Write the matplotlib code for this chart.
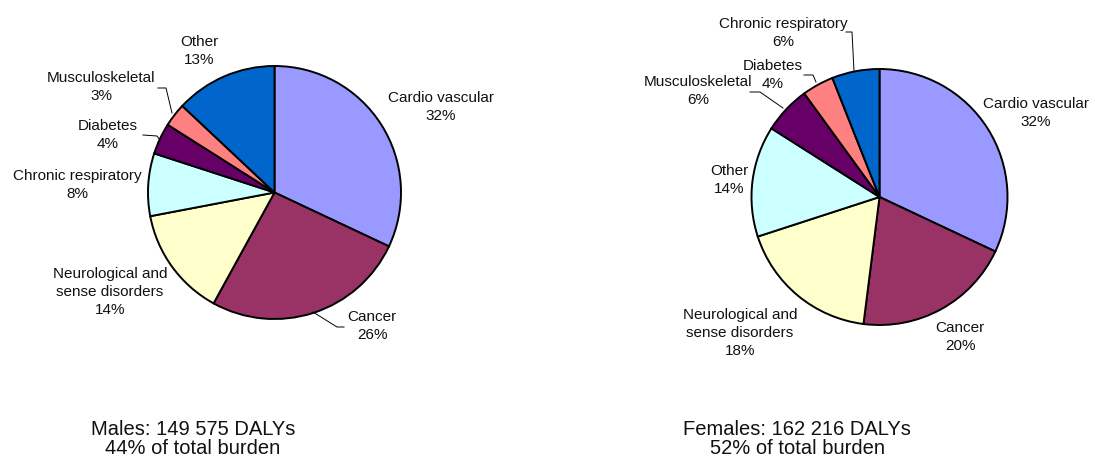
import matplotlib.pyplot as plt

plt.rcParams['font.family'] = ['Liberation Sans', 'DejaVu Sans']

# slice order runs clockwise from 12 o'clock
male_labels = ['Cardio vascular', 'Cancer', 'Neurological and\nsense disorders',
               'Chronic respiratory', 'Diabetes', 'Musculoskeletal', 'Other']
male_values = [32, 26, 14, 8, 4, 3, 13]

female_labels = ['Cardio vascular', 'Cancer', 'Neurological and\nsense disorders',
                 'Other', 'Musculoskeletal', 'Diabetes', 'Chronic respiratory']
female_values = [32, 20, 18, 14, 6, 4, 6]

male_caption = 'Males: 149 575 DALYs\n44% of total burden'
female_caption = 'Females: 162 216 DALYs\n52% of total burden'

slice_colors = ['#9999FF', '#993366', '#FFFFCC', '#CCFFFF', '#660066', '#FF8080', '#0066CC']

W, H = 1095, 461


def px(x, y):
    # pixel position (origin top-left) -> data coords
    return x, H - y


# label centres and optional leader lines, per slice
male_layout = [
    dict(pos=(441, 107)),
    dict(pos=(372, 326), leader=[(313, 312), (337, 327), (344, 327)]),
    dict(pos=(110, 292)),
    dict(pos=(77, 185)),
    dict(pos=(108, 135), leader=[(160, 140), (157, 136), (143, 135)]),
    dict(pos=(101, 87), leader=[(172, 113), (166, 88), (158, 88)]),
    dict(pos=(199, 51)),
]
female_layout = [
    dict(pos=(1036, 113)),
    dict(pos=(960, 337)),
    dict(pos=(740, 333)),
    dict(pos=(729, 180)),
    dict(pos=(698, 91), leader=[(783, 108), (760, 92), (750, 92)]),
    dict(pos=(773, 75), leader=[(816, 82), (813, 75), (804, 75)]),
    dict(pos=(783, 33), leader=[(854, 71), (852, 32), (846, 32)]),
]


def draw_pie(ax, values, labels, layout, centre, radius, caption, caption_pos):
    ax.pie(values, colors=slice_colors, startangle=90, counterclock=False,
           center=px(*centre), radius=radius, frame=True,
           wedgeprops=dict(edgecolor='black', linewidth=1.4))
    for val, lab, lay in zip(values, labels, layout):
        x, y = px(*lay['pos'])
        ax.text(x, y, f'{lab}\n{val}%', ha='center', va='center',
                fontsize=11, linespacing=1.35, color='#111111')
        if 'leader' in lay:
            xs, ys = zip(*[px(*p) for p in lay['leader']])
            ax.plot(xs, ys, color='black', linewidth=0.7)
    cx, cy = px(*caption_pos)
    ax.text(cx, cy, caption, ha='center', va='center', fontsize=14.5,
            linespacing=0.95, color='#111111')


fig = plt.figure(figsize=(W / 100, H / 100), dpi=100)
ax = fig.add_axes([0, 0, 1, 1])

draw_pie(ax, male_values, male_labels, male_layout, (274.5, 192.5), 126.5,
         male_caption, (193, 439))
draw_pie(ax, female_values, female_labels, female_layout, (879.5, 197), 128,
         female_caption, (797, 439))

ax.set_xlim(0, W)
ax.set_ylim(0, H)
ax.set_aspect('equal')
ax.axis('off')

fig.savefig('out.png', dpi=100)
